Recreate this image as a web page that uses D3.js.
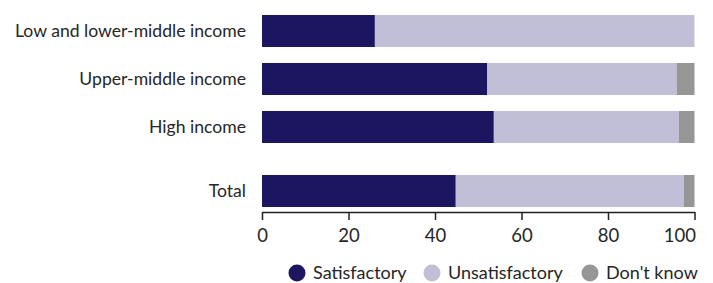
<!DOCTYPE html>
<html lang="en">
<head>
<meta charset="UTF-8">
<title>Satisfaction by income group</title>
<script src="https://d3js.org/d3.v7.min.js"></script>
<style>
  body { margin: 0; background: #fff; }
  text { font-family: Lato, "Open Sans", sans-serif; font-weight: 400; fill: #262626; }
</style>
</head>
<body>
<script>
// data
var groups = ["Low and lower-middle income", "Upper-middle income", "High income", "Total"];
var satisfactory = [26.1, 52.1, 53.6, 44.8];
var unsatisfactory = [73.9, 43.8, 42.8, 52.7];
var dontKnow = [0, 4.1, 3.6, 2.5];
var seriesNames = ["Satisfactory", "Unsatisfactory", "Don't know"];
var seriesColors = ["#1c1660", "#c1bfd7", "#969696"];
var ticks = [0, 20, 40, 60, 80, 100];

var width = 713, height = 283;
var svg = d3.select("body").append("svg").attr("width", width).attr("height", height);

var x = d3.scaleLinear().domain([0, 100]).range([262, 694.5]);
// Total sits a bit further down than the income groups
var rowTop = [15, 63, 111, 175];
var barH = 32;

var rows = groups.map(function(g, i) {
  return { name: g, vals: [satisfactory[i], unsatisfactory[i], dontKnow[i]], top: rowTop[i] };
});

var stacked = d3.stack().keys([0, 1, 2]).value(function(d, k) { return d.vals[k]; })(rows);

svg.selectAll("g.series").data(stacked).enter().append("g")
  .attr("fill", function(d, i) { return seriesColors[i]; })
  .selectAll("rect").data(function(d) { return d; }).enter().append("rect")
  .attr("x", function(d) { return x(d[0]); })
  .attr("width", function(d) { return Math.max(0, x(d[1]) - x(d[0])); })
  .attr("y", function(d) { return d.data.top; })
  .attr("height", barH);

svg.selectAll("text.cat").data(rows).enter().append("text")
  .attr("class", "cat")
  .attr("x", 246)
  .attr("y", function(d) { return d.top + barH / 2; })
  .attr("dy", "0.35em")
  .attr("text-anchor", "end")
  .style("font-size", "17.6px")
  .text(function(d) { return d.name; });

var axis = svg.append("g").attr("transform", "translate(0,212)")
  .call(d3.axisBottom(x).tickValues(ticks).tickSize(8).tickSizeOuter(0).tickPadding(9));
axis.select(".domain").attr("stroke", "#222").attr("stroke-width", 1.5);
axis.selectAll(".tick line").attr("stroke", "#222").attr("stroke-width", 1.5);
axis.selectAll(".tick text").style("font-size", "18.5px").style("font-family", "Lato, sans-serif")
  .attr("fill", "#262626");
// last label is pulled in so it ends at the axis end
axis.selectAll(".tick text").filter(function(d) { return d === 100; })
  .attr("text-anchor", "end").attr("dx", 1);

// legend
var legendX = [297, 432, 590];
var lg = svg.selectAll("g.legend").data(seriesNames).enter().append("g")
  .attr("transform", function(d, i) { return "translate(" + legendX[i] + ",273)"; });
lg.append("circle").attr("r", 8.5).attr("fill", function(d, i) { return seriesColors[i]; });
lg.append("text").attr("x", 16).attr("dy", "0.35em").style("font-size", "18px").text(function(d) { return d; });
</script>
</body>
</html>
